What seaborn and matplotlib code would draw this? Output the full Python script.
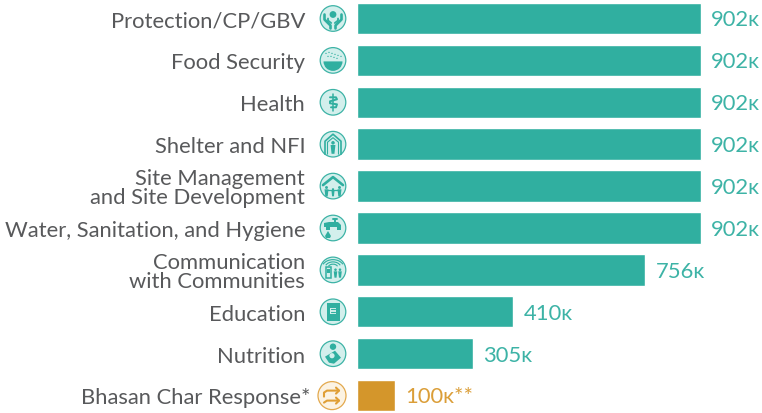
import matplotlib
matplotlib.use('Agg')
import matplotlib.pyplot as plt
from matplotlib.patches import Circle, Polygon, Rectangle, Wedge, Arc
from matplotlib.transforms import ScaledTranslation
import seaborn as sns
import pandas as pd

sns.set_theme(style='white')
plt.rcParams['font.family'] = ['Lato', 'DejaVu Sans']

categories = ['Protection/CP/GBV', 'Food Security', 'Health', 'Shelter and NFI',
              'Site Management\nand Site Development', 'Water, Sanitation, and Hygiene',
              'Communication\nwith Communities', 'Education', 'Nutrition',
              'Bhasan Char Response*']
values = [902, 902, 902, 902, 902, 902, 756, 410, 305, 100]
value_labels = ['902ᴋ', '902ᴋ', '902ᴋ', '902ᴋ', '902ᴋ', '902ᴋ', '756ᴋ', '410ᴋ', '305ᴋ', '100ᴋ**']
groups = ['main'] * 9 + ['bhasan']

TEAL = '#30AFA0'
ORANGE = '#D4962B'
LABEL_TEAL = '#3DB3A6'
LABEL_ORANGE = '#DB9E38'
GRAY = '#58595B'
PALE = '#D3EFEC'

df = pd.DataFrame({'category': categories, 'value': values, 'group': groups})

fig = plt.figure(figsize=(7.62, 4.14), dpi=100)
ax = fig.add_axes([356.6 / 762, 0, 405.4 / 762, 1])
sns.barplot(data=df, x='value', y='category', hue='group', dodge=False, width=0.75,
            palette={'main': TEAL, 'bhasan': ORANGE}, legend=False, saturation=1, ax=ax)
ax.set_xlim(0, 1062)
ax.set_ylim(9.418, -0.465)
ax.set_xlabel('')
ax.set_ylabel('')
ax.set_xticks([])
sns.despine(ax=ax, left=True, bottom=True)
ax.tick_params(axis='y', length=0, pad=37)
ax.set_yticks(range(len(categories)))
ax.set_yticklabels(categories, fontsize=15.8, color=GRAY, linespacing=0.92, ha='right', multialignment='right')
# the asterisk hangs past the right edge of the other labels
star = ax.get_yticklabels()[-1]
star.set_transform(star.get_transform() + ScaledTranslation(5 / 100, 0, fig.dpi_scale_trans))

for i, (v, lab) in enumerate(zip(values, value_labels)):
    c = LABEL_ORANGE if groups[i] == 'bhasan' else LABEL_TEAL
    ax.annotate(lab, (v, i), xytext=(7.5, -0.7), textcoords='offset points', va='center',
                ha='left', fontsize=15.8, color=c)

# icons, drawn in pixel coordinates on an overlay
ov = fig.add_axes([0, 0, 1, 1])
ov.set_xlim(0, 762)
ov.set_ylim(414, 0)
ov.axis('off')
ov.patch.set_alpha(0)


def line(cx, cy, pts, c=TEAL, lw=1.3):
    ov.plot([cx + p[0] for p in pts], [cy + p[1] for p in pts], color=c, lw=lw,
            solid_capstyle='round', solid_joinstyle='round')


def poly(cx, cy, pts, c=TEAL):
    ov.add_patch(Polygon([(cx + p[0], cy + p[1]) for p in pts], closed=True, fc=c, ec='none'))


def person(cx, cy, s=1.0, c=TEAL):
    ov.add_patch(Circle((cx, cy - 4 * s), 1.6 * s, fc=c, ec='none'))
    poly(cx, cy, [(-2.2 * s, -2 * s), (2.2 * s, -2 * s), (1.3 * s, 6 * s), (-1.3 * s, 6 * s)], c)


def base(cy, cx=333, r=12.8, fc=PALE, ec=LABEL_TEAL):
    ov.add_patch(Circle((cx, cy), r, fc=fc, ec=ec, lw=0.9))


centers = [19.5 + i * 41.9 for i in range(10)]
for cy in centers[:9]:
    base(cy)
base(centers[9], cx=332, r=14, fc='#FCF3E3', ec='#E3A94E')

# protection
cy = centers[0]
ov.add_patch(Circle((333, cy - 4), 3.4, fc=TEAL, ec='none'))
for s in (-1, 1):
    line(333, cy, [(s * 8.5, -4), (s * 8.5, 1), (s * 2.5, 7), (s * 2.5, 10)], lw=1.9)
    line(333, cy, [(s * 5, 0), (s * 5, 2), (s * 1.8, 4.5)], lw=1.3)

# food (y axis is flipped here, so 0-180 is the lower half)
cy = centers[1]
ov.add_patch(Wedge((333, cy + 1), 9.5, 0, 180, fc=TEAL, ec='none'))
for dx, dy in [(-7, -7), (-4, -8), (-1, -7), (2, -6), (5, -5), (8, -4), (-5, -4), (-2, -4), (1, -3), (4, -2)]:
    ov.add_patch(Circle((333 + dx, cy + dy), 0.65, fc=TEAL, ec='none'))

# health
cy = centers[2]
line(333, cy, [(0, -8), (0, 9)], lw=1.1)
line(333, cy, [(-3, -5), (3, -5), (4, -3), (-3, -1), (-3, 1), (4, 2), (3, 5), (-2, 5)], lw=1.4)

# shelter
cy = centers[3]
line(333, cy, [(-8, 10), (-8, -3), (0, -10), (8, -3), (8, 10)], lw=1.2)
line(333, cy, [(-5.5, 10), (-5.5, -2), (0, -6.5), (5.5, -2), (5.5, 10)], lw=0.8)
person(333, cy + 3, 1.1)

# site
cy = centers[4]
line(333, cy, [(-10, -1), (0, -9), (10, -1)], lw=1.9)
person(326.5, cy + 5, 0.9)
person(333, cy + 6, 0.7)
person(339.5, cy + 5, 0.9)
line(333, cy, [(-6, 3.5), (6, 3.5)], lw=0.9)

# water
cy = centers[5]
poly(333, cy, [(-9, -5), (-4, -6), (5, -6), (8, -3), (8, 2), (4, 2), (4, -1), (-3, -1), (-3, 2), (-7, 2), (-7, -1), (-9, -1)])
line(333, cy, [(0, -9), (4, -9)], lw=1.4)
line(333, cy, [(2, -9), (2, -6)], lw=1.4)
poly(333, cy, [(-5, 3), (-2, 8), (-3, 10), (-7, 10), (-8, 8)])

# communication
cy = centers[6]
ov.add_patch(Rectangle((325.5, cy - 3), 5.5, 11, fc='none', ec=TEAL, lw=1.1))
ov.add_patch(Rectangle((327, cy - 1), 2.5, 4, fc=TEAL, ec='none'))
for d in (5, 8, 11):
    ov.add_patch(Arc((333, cy - 2), d * 2, d * 1.5, theta1=200, theta2=340, color=TEAL, lw=0.8))
person(335.5, cy + 3, 0.8)
person(340, cy + 3, 0.8)

# education
cy = centers[7]
ov.add_patch(Rectangle((326.5, cy - 9), 13, 18, fc=TEAL, ec='none'))
ov.add_patch(Rectangle((330, cy - 4), 6, 6, fc=PALE, ec='none'))
line(333, cy, [(-2, -2.5), (2, -2.5)], lw=0.8)
line(333, cy, [(-2, 0), (2, 0)], lw=0.8)

# nutrition
cy = centers[8]
ov.add_patch(Circle((333, cy - 7), 3.2, fc=TEAL, ec='none'))
poly(333, cy, [(-8, 3), (2, -3), (8, 4), (1, 10), (-4, 9)])
ov.add_patch(Circle((332, cy + 2), 2.6, fc=PALE, ec='none'))

# bhasan
cy = centers[9]
oc = '#E09F35'
line(332, cy, [(-8, 1), (-8, -3), (-5, -5), (7, -5)], c=oc, lw=1.5)
line(332, cy, [(4, -8), (7, -5), (4, -2)], c=oc, lw=1.5)
line(332, cy, [(-8, 7), (-5, 5), (7, 5)], c=oc, lw=1.5)
line(332, cy, [(4, 2), (7, 5), (4, 8)], c=oc, lw=1.5)

fig.savefig('out.png', dpi=100)
